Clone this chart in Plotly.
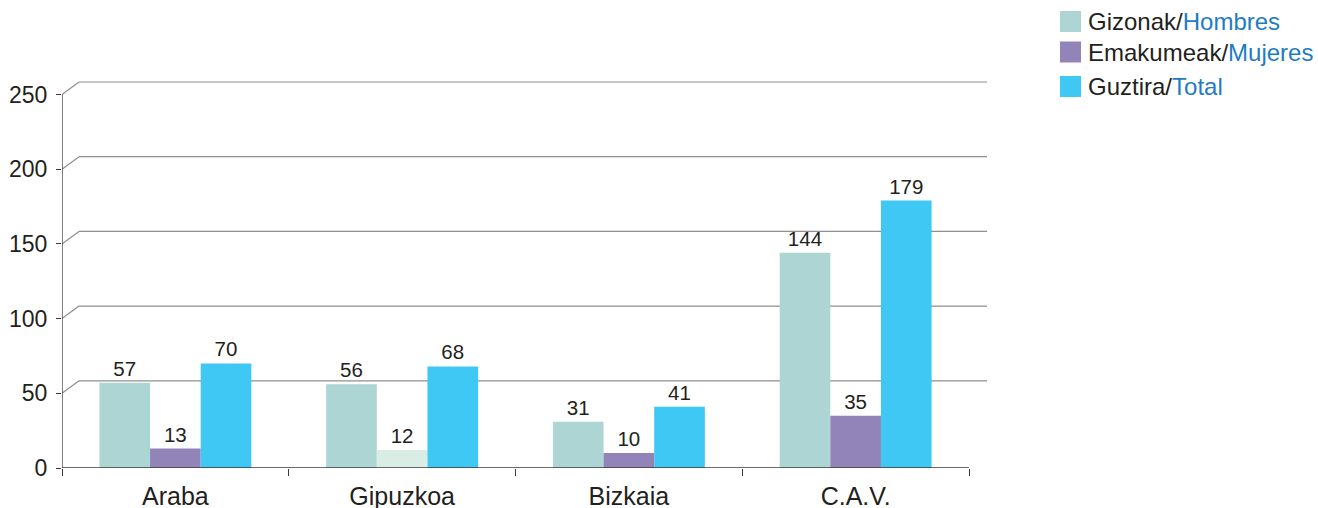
import plotly.graph_objects as go

categories = ["Araba", "Gipuzkoa", "Bizkaia", "C.A.V."]
gizonak = [57, 56, 31, 144]
emakumeak = [13, 12, 10, 35]
guztira = [70, 68, 41, 179]
y_ticks = [0, 50, 100, 150, 200, 250]
legend_eu = ["Gizonak", "Emakumeak", "Guztira"]
legend_es = ["Hombres", "Mujeres", "Total"]

C_GIZ = "#acd5d3"
C_EMA = "#9284b8"
C_EMA_LIGHT = "#d9ede4"
C_TOT = "#40c8f4"
TXT = "#231f20"
BLUE = "#1f7cc1"
FONT = "Liberation Sans, Arial, sans-serif"

ML, MR, MT, MB = 62, 331, 80, 40
W, H = 1318, 508
PW = W - ML - MR
PH = H - MT - MB
CAT_PX = 226.75
X_MAX = -0.5 + PW / CAT_PX
PX_PER_UNIT = 1.494
Y_MAX = PH / PX_PER_UNIT

ema_colors = [C_EMA, C_EMA_LIGHT, C_EMA, C_EMA]

fig = go.Figure()
for vals, col, name in [(gizonak, C_GIZ, "Gizonak"), (emakumeak, ema_colors, "Emakumeak"), (guztira, C_TOT, "Guztira")]:
    fig.add_trace(go.Bar(
        x=categories, y=vals, name=name, marker=dict(color=col, line=dict(width=0)),
        text=[str(v) for v in vals], textposition="outside", cliponaxis=False,
        textfont=dict(family=FONT, size=20.5, color=TXT), showlegend=False,
        hoverinfo="skip",
    ))

shapes = []
# back-wall gridlines (3D offset)
dx = 17 / CAT_PX
dy = 12.5 / PX_PER_UNIT
for v in y_ticks[1:]:
    shapes.append(dict(type="line", xref="x", yref="y", x0=-0.5, y0=v, x1=-0.5 + dx, y1=v + dy,
                       line=dict(color="#8f8f8f", width=1.2), layer="below"))
    shapes.append(dict(type="line", xref="x", yref="y", x0=-0.5 + dx, y0=v + dy, x1=X_MAX, y1=v + dy,
                       line=dict(color="#8f8f8f", width=1.2), layer="below"))
# axes
shapes.append(dict(type="line", xref="x", yref="y", x0=-0.5, y0=-5 / PX_PER_UNIT, x1=-0.5, y1=y_ticks[-1],
                   line=dict(color="#3a3a3a", width=1.3), layer="above"))
shapes.append(dict(type="line", xref="x", yref="y", x0=-0.5, y0=0, x1=len(categories) - 0.5, y1=0,
                   line=dict(color="#3a3a3a", width=1.3), layer="above"))

# legend (page pixel coordinates converted to paper)
def px_x(px):
    return (px - ML) / PW

def px_y(py):
    return (H - MB - py) / PH

annotations = []
cols = [C_GIZ, C_EMA, C_TOT]
row_y = [21.5, 52, 86.5]
for i in range(3):
    cy = row_y[i]
    shapes.append(dict(type="rect", xref="paper", yref="paper",
                       x0=px_x(1060), x1=px_x(1081),
                       y0=px_y(cy + 10.5), y1=px_y(cy - 10.5),
                       fillcolor=cols[i], line=dict(width=0)))
    annotations.append(dict(xref="paper", yref="paper", x=px_x(1086), y=px_y(cy),
                            xanchor="left", yanchor="middle", showarrow=False,
                            text=f"{legend_eu[i]}/<span style='color:{BLUE}'>{legend_es[i]}</span>",
                            font=dict(family=FONT, size=24, color=TXT)))

fig.update_layout(
    width=W, height=H,
    margin=dict(l=ML, r=MR, t=MT, b=MB, pad=0, autoexpand=False),
    paper_bgcolor="white", plot_bgcolor="white",
    barmode="group", bargap=0.33, bargroupgap=0,
    shapes=shapes, annotations=annotations,
    font=dict(family=FONT, color=TXT),
    xaxis=dict(range=[-0.5, X_MAX], showgrid=False, showline=False, zeroline=False, automargin=False,
               ticks="outside", tickson="boundaries", ticklen=7, tickcolor="#3a3a3a", tickwidth=1.3,
               ticklabelstandoff=11,
               tickfont=dict(family=FONT, size=25, color=TXT)),
    yaxis=dict(range=[0, Y_MAX], tickvals=y_ticks, showgrid=False, showline=False, zeroline=False,
               automargin=False,
               ticks="outside", ticklen=5, tickcolor="#3a3a3a", tickwidth=1.3,
               ticklabelstandoff=4,
               tickfont=dict(family=FONT, size=23, color=TXT)),
)

fig.write_html("out.html", config={"displayModeBar": False},
               post_script="document.body.style.margin='0';document.body.style.overflow='hidden';")
